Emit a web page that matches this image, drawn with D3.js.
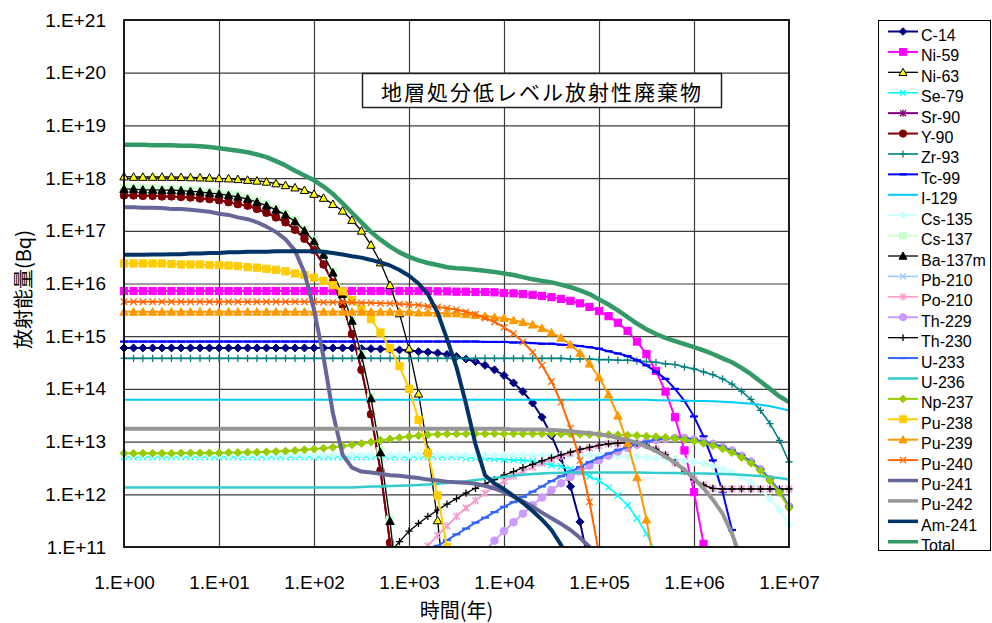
<!DOCTYPE html>
<html>
<head>
<meta charset="utf-8">
<script src="https://cdn.jsdelivr.net/npm/d3@7"></script>
<style>
  body { margin: 0; background: #fff; }
  svg { display: block; }
  text { font-family: "Liberation Sans", Arial, sans-serif; fill: #000; }
  .jp { font-family: "Noto Sans CJK JP", sans-serif; }
</style>
</head>
<body>
<svg id="chart" width="992" height="623"></svg>
<script>
// Elapsed time (years), ten steps per decade
const years = [
  1, 1.26, 1.58, 2, 2.51, 3.16, 3.98, 5.01, 6.31, 7.94,
  10, 12.6, 15.8, 20, 25.1, 31.6, 39.8, 50.1, 63.1, 79.4,
  100, 126, 158, 200, 251, 316, 398, 501, 631, 794,
  1000, 1260, 1580, 2000, 2510, 3160, 3980, 5010, 6310, 7940,
  1e4, 1.26e4, 1.58e4, 2e4, 2.51e4, 3.16e4, 3.98e4, 5.01e4, 6.31e4, 7.94e4,
  1e5, 1.26e5, 1.58e5, 2e5, 2.51e5, 3.16e5, 3.98e5, 5.01e5, 6.31e5, 7.94e5,
  1e6, 1.26e6, 1.58e6, 2e6, 2.51e6, 3.16e6, 3.98e6, 5.01e6, 6.31e6, 7.94e6,
  1e7
];

const xTickValues = [1, 1e1, 1e2, 1e3, 1e4, 1e5, 1e6, 1e7];
const xTickLabels = ["1.E+00", "1.E+01", "1.E+02", "1.E+03", "1.E+04", "1.E+05", "1.E+06", "1.E+07"];
const yTickValues = [1e11, 1e12, 1e13, 1e14, 1e15, 1e16, 1e17, 1e18, 1e19, 1e20, 1e21];
const yTickLabels = ["1.E+11", "1.E+12", "1.E+13", "1.E+14", "1.E+15", "1.E+16", "1.E+17", "1.E+18", "1.E+19", "1.E+20", "1.E+21"];

// Activity (Bq) per nuclide; each list starts at years[first]
const c14 = [
  6.0e14,6.0e14,6.0e14,6.0e14,6.0e14,6.0e14,6.0e14,6.0e14,6.0e14,6.0e14,
  6.0e14,6.0e14,6.0e14,6.0e14,6.0e14,6.0e14,6.0e14,6.0e14,6.0e14,6.0e14,
  6.0e14,6.0e14,6.0e14,6.0e14,6.0e14,5.8e14,5.8e14,5.7e14,5.6e14,5.5e14,
  5.4e14,5.1e14,5.0e14,4.8e14,4.5e14,4.1e14,3.7e14,3.3e14,2.8e14,2.3e14,
  1.8e14,1.3e14,8.9e13,5.4e13,2.9e13,1.3e13,4.9e12,1.4e12,3.0e11,4.1e10
];
const ni59 = [
  7.2e15,7.2e15,7.2e15,7.2e15,7.2e15,7.2e15,7.2e15,7.2e15,7.2e15,7.2e15,
  7.2e15,7.2e15,7.2e15,7.2e15,7.2e15,7.2e15,7.2e15,7.2e15,7.2e15,7.2e15,
  7.2e15,7.2e15,7.2e15,7.2e15,7.2e15,7.2e15,7.2e15,7.2e15,7.2e15,7.2e15,
  7.2e15,7.2e15,7.2e15,7.1e15,7.1e15,7.0e15,7.0e15,6.9e15,6.9e15,6.8e15,
  6.6e15,6.5e15,6.3e15,6.1e15,5.8e15,5.5e15,5.1e15,4.7e15,4.2e15,3.6e15,
  3.0e15,2.4e15,1.8e15,1.26e15,7.9e14,4.6e14,2.2e14,8.9e13,2.9e13,6.8e12,
  1.1e12,1.15e11,6.6e9
];
const ni63 = [
  1.07e18,1.05e18,1.05e18,1.05e18,1.05e18,1.05e18,1.04e18,1.03e18,1.02e18,1.01e18,
  9.9e17,9.8e17,9.5e17,9.2e17,8.9e17,8.5e17,7.9e17,7.3e17,6.6e17,5.9e17,
  5.0e17,4.2e17,3.2e17,2.4e17,1.6e17,1.0e17,5.4e16,2.5e16,9.3e15,2.7e15,
  5.8e14,8.1e13,6.9e12,3.2e11,6.5e9
];
const se79 = [
  5.1e12,5.1e12,5.1e12,5.1e12,5.1e12,5.1e12,5.1e12,5.1e12,5.1e12,5.1e12,
  5.1e12,5.1e12,5.1e12,5.1e12,5.1e12,5.1e12,5.1e12,5.1e12,5.1e12,5.1e12,
  5.1e12,5.1e12,5.1e12,5.1e12,5.1e12,5.1e12,5.1e12,5.1e12,5.1e12,5.1e12,
  5.1e12,5.1e12,5.1e12,5.1e12,5.1e12,5.1e12,4.9e12,4.9e12,4.8e12,4.7e12,
  4.6e12,4.5e12,4.4e12,4.2e12,3.9e12,3.6e12,3.4e12,3.0e12,2.6e12,2.2e12,
  1.8e12,1.35e12,9.5e11,6.2e11,3.5e11,1.8e11,7.4e10
];
const sr90 = [
  4.7e17,4.7e17,4.6e17,4.6e17,4.5e17,4.5e17,4.4e17,4.3e17,4.1e17,4.0e17,
  3.8e17,3.5e17,3.2e17,3.0e17,2.6e17,2.2e17,1.8e17,1.45e17,1.05e17,7.1e16,
  4.3e16,2.3e16,1.05e16,4.0e15,1.1e15,2.3e14,3.3e13,2.8e12,1.2e11,2.4e9
];
const y90 = [
  4.7e17,4.7e17,4.6e17,4.6e17,4.5e17,4.5e17,4.4e17,4.3e17,4.1e17,4.0e17,
  3.8e17,3.5e17,3.2e17,3.0e17,2.6e17,2.2e17,1.8e17,1.45e17,1.05e17,7.1e16,
  4.3e16,2.3e16,1.05e16,4.0e15,1.1e15,2.3e14,3.3e13,2.8e12,1.2e11,2.4e9
];
const zr93 = [
  3.8e14,3.8e14,3.8e14,3.8e14,3.8e14,3.8e14,3.8e14,3.8e14,3.8e14,3.8e14,
  3.8e14,3.8e14,3.8e14,3.8e14,3.8e14,3.8e14,3.8e14,3.8e14,3.8e14,3.8e14,
  3.8e14,3.8e14,3.8e14,3.8e14,3.8e14,3.8e14,3.8e14,3.8e14,3.8e14,3.8e14,
  3.8e14,3.8e14,3.8e14,3.8e14,3.8e14,3.8e14,3.8e14,3.8e14,3.8e14,3.8e14,
  3.8e14,3.8e14,3.8e14,3.8e14,3.8e14,3.8e14,3.8e14,3.7e14,3.7e14,3.7e14,
  3.6e14,3.6e14,3.5e14,3.5e14,3.4e14,3.3e14,3.2e14,3.0e14,2.9e14,2.6e14,
  2.4e14,2.1e14,1.86e14,1.55e14,1.23e14,9.1e13,6.3e13,3.9e13,2.2e13,1.05e13,
  4.1e12
];
const tc99 = [
  7.9e14,7.9e14,7.9e14,7.9e14,7.9e14,7.9e14,7.9e14,7.9e14,7.9e14,7.9e14,
  7.9e14,7.9e14,7.9e14,7.9e14,7.9e14,7.9e14,7.9e14,7.9e14,7.9e14,7.9e14,
  7.9e14,7.9e14,7.9e14,7.9e14,7.9e14,7.9e14,7.9e14,7.9e14,7.9e14,7.9e14,
  7.9e14,7.9e14,7.9e14,7.9e14,7.9e14,7.9e14,7.9e14,7.9e14,7.8e14,7.8e14,
  7.8e14,7.6e14,7.6e14,7.4e14,7.2e14,7.2e14,6.9e14,6.8e14,6.5e14,6.2e14,
  5.8e14,5.2e14,4.7e14,4.2e14,3.5e14,2.8e14,2.1e14,1.55e14,1.0e14,5.9e13,
  3.0e13,1.26e13,4.4e12,1.1e12,2.1e11,2.5e10
];
const i129 = [
  6.2e13,6.2e13,6.2e13,6.2e13,6.2e13,6.2e13,6.2e13,6.2e13,6.2e13,6.2e13,
  6.2e13,6.2e13,6.2e13,6.2e13,6.2e13,6.2e13,6.2e13,6.2e13,6.2e13,6.2e13,
  6.2e13,6.2e13,6.2e13,6.2e13,6.2e13,6.2e13,6.2e13,6.2e13,6.2e13,6.2e13,
  6.2e13,6.2e13,6.2e13,6.2e13,6.2e13,6.2e13,6.2e13,6.2e13,6.2e13,6.2e13,
  6.2e13,6.2e13,6.2e13,6.2e13,6.2e13,6.2e13,6.2e13,6.2e13,6.2e13,6.2e13,
  6.2e13,6.2e13,6.2e13,6.2e13,6.2e13,6.2e13,6.1e13,6.1e13,6.0e13,6.0e13,
  5.9e13,5.9e13,5.8e13,5.7e13,5.6e13,5.4e13,5.2e13,5.0e13,4.7e13,4.3e13,
  3.9e13
];
const cs135 = [
  5.5e12,5.5e12,5.5e12,5.5e12,5.5e12,5.5e12,5.5e12,5.5e12,5.5e12,5.5e12,
  5.5e12,5.5e12,5.5e12,5.5e12,5.5e12,5.5e12,5.5e12,5.5e12,5.5e12,5.5e12,
  5.5e12,5.5e12,5.5e12,5.5e12,5.5e12,5.5e12,5.5e12,5.5e12,5.5e12,5.5e12,
  5.5e12,5.5e12,5.5e12,5.5e12,5.5e12,5.5e12,5.5e12,5.5e12,5.5e12,5.5e12,
  5.5e12,5.5e12,5.5e12,5.5e12,5.5e12,5.5e12,5.5e12,5.5e12,5.4e12,5.4e12,
  5.4e12,5.3e12,5.2e12,5.2e12,5.1e12,5.0e12,4.9e12,4.7e12,4.6e12,4.3e12,
  4.1e12,3.8e12,3.4e12,3.0e12,2.6e12,2.1e12,1.66e12,1.2e12,8.2e11,5.0e11,
  2.7e11
];
const cs137 = [
  6.6e17,6.6e17,6.4e17,6.4e17,6.2e17,6.2e17,6.1e17,5.9e17,5.8e17,5.5e17,
  5.3e17,5.0e17,4.7e17,4.2e17,3.7e17,3.2e17,2.6e17,2.1e17,1.6e17,1.06e17,
  6.7e16,3.7e16,1.7e16,6.7e15,2.06e15,4.6e14,7.0e13,6.6e12,3.3e11,7.6e9
];
const ba137m = [
  6.2e17,6.2e17,6.0e17,6.0e17,5.9e17,5.9e17,5.8e17,5.6e17,5.5e17,5.2e17,
  5.0e17,4.7e17,4.4e17,4.0e17,3.5e17,3.0e17,2.5e17,2.0e17,1.5e17,1.0e17,
  6.3e16,3.5e16,1.6e16,6.3e15,1.95e15,4.4e14,6.6e13,6.2e12,3.1e11,7.2e9
];
const pb210 = [
  6.5e10,1.05e11,1.66e11,2.5e11,3.8e11,5.5e11,7.6e11,1.05e12,1.38e12,
  1.78e12,2.2e12,2.7e12,3.3e12,3.9e12,4.6e12,5.2e12,6.0e12,6.9e12,7.6e12,
  8.3e12,9.1e12,9.3e12,9.5e12,9.3e12,8.5e12,7.2e12,5.6e12,4.0e12,2.75e12,
  1.9e12,1.5e12,1.3e12,1.26e12,1.26e12,1.26e12,1.26e12,1.26e12,1.26e12,1.26e12,
  1.26e12
];
const po210 = [
  6.5e10,1.05e11,1.66e11,2.5e11,3.8e11,5.5e11,7.6e11,1.05e12,1.38e12,
  1.78e12,2.2e12,2.7e12,3.3e12,3.9e12,4.6e12,5.2e12,6.0e12,6.9e12,7.6e12,
  8.3e12,9.1e12,9.3e12,9.5e12,9.3e12,8.5e12,7.2e12,5.6e12,4.0e12,2.75e12,
  1.9e12,1.5e12,1.3e12,1.26e12,1.26e12,1.26e12,1.26e12,1.26e12,1.26e12,1.26e12,
  1.26e12
];
const th229 = [
  8.5e10,1.32e11,
  2.0e11,2.95e11,4.3e11,6.2e11,8.7e11,1.2e12,1.62e12,2.14e12,2.75e12,3.5e12,
  4.4e12,5.4e12,6.5e12,7.6e12,8.7e12,9.8e12,1.07e13,1.12e13,1.17e13,1.17e13,
  1.1e13,1.0e13,9.1e12,7.9e12,6.8e12,5.4e12,4.2e12,3.0e12,1.95e12,1.15e12,
  5.9e11
];
const th230 = [
  7.9e10,1.26e11,
  2.0e11,2.8e11,3.8e11,5.0e11,6.5e11,8.3e11,1.05e12,1.3e12,1.6e12,1.9e12,
  2.3e12,2.7e12,3.2e12,3.7e12,4.3e12,4.9e12,5.6e12,6.3e12,7.1e12,7.8e12,
  8.5e12,9.1e12,9.3e12,9.5e12,9.3e12,8.5e12,7.2e12,5.6e12,4.0e12,2.75e12,
  1.9e12,1.5e12,1.3e12,1.26e12,1.26e12,1.26e12,1.26e12,1.26e12,1.26e12,1.26e12,
  1.26e12
];
const u233 = [
  7.9e10,1.05e11,1.35e11,1.74e11,2.24e11,2.9e11,3.6e11,4.6e11,
  5.8e11,7.1e11,8.9e11,1.12e12,1.41e12,1.78e12,2.2e12,2.7e12,3.3e12,4.1e12,
  4.9e12,5.9e12,6.9e12,7.9e12,9.1e12,1.0e13,1.1e13,1.15e13,1.2e13,1.17e13,
  1.1e13,1.0e13,9.1e12,7.9e12,6.8e12,5.4e12,4.2e12,3.0e12,1.95e12,1.15e12,
  5.9e11
];
const u236 = [
  1.35e12,1.35e12,1.35e12,1.35e12,1.35e12,1.35e12,1.35e12,1.35e12,1.35e12,1.35e12,
  1.35e12,1.35e12,1.35e12,1.35e12,1.35e12,1.35e12,1.35e12,1.35e12,1.35e12,1.35e12,
  1.35e12,1.35e12,1.35e12,1.35e12,1.35e12,1.38e12,1.40e12,1.41e12,1.43e12,1.45e12,
  1.47e12,1.50e12,1.54e12,1.58e12,1.64e12,1.70e12,1.77e12,1.86e12,1.95e12,2.05e12,
  2.15e12,2.25e12,2.35e12,2.43e12,2.49e12,2.54e12,2.57e12,2.58e12,2.58e12,2.58e12,
  2.58e12,2.58e12,2.58e12,2.58e12,2.58e12,2.56e12,2.55e12,2.54e12,2.53e12,2.51e12,
  2.49e12,2.48e12,2.45e12,2.42e12,2.39e12,2.34e12,2.28e12,2.22e12,2.13e12,2.03e12,
  1.91e12
];
const np237 = [
  6.0e12,6.0e12,6.0e12,6.0e12,6.0e12,6.0e12,6.1e12,6.1e12,6.1e12,6.1e12,
  6.1e12,6.2e12,6.2e12,6.3e12,6.3e12,6.4e12,6.5e12,6.6e12,6.8e12,7.0e12,
  7.2e12,7.5e12,7.8e12,8.2e12,8.7e12,9.2e12,9.8e12,1.05e13,1.12e13,1.18e13,
  1.25e13,1.30e13,1.35e13,1.38e13,1.40e13,1.40e13,1.41e13,1.41e13,1.41e13,1.41e13,
  1.41e13,1.41e13,1.41e13,1.41e13,1.41e13,1.40e13,1.39e13,1.39e13,1.38e13,1.37e13,
  1.36e13,1.35e13,1.34e13,1.32e13,1.30e13,1.27e13,1.24e13,1.20e13,1.15e13,1.09e13,
  1.02e13,9.3e12,8.4e12,7.3e12,6.2e12,5.0e12,3.9e12,2.8e12,1.8e12,1.07e12,
  5.5e11
];
const pu238 = [
  2.4e16,2.4e16,2.4e16,2.4e16,2.4e16,2.35e16,2.3e16,2.3e16,2.3e16,2.24e16,
  2.24e16,2.19e16,2.14e16,2.04e16,2.0e16,1.9e16,1.82e16,1.7e16,1.55e16,1.45e16,
  1.29e16,1.12e16,9.3e15,7.1e15,4.8e15,3.2e15,2.1e15,1.17e15,5.9e14,2.7e14,
  1.0e14,2.6e13,6.0e12,9.5e11,1.0e11,6.3e9
];
const pu239 = [
  2.9e15,2.9e15,2.9e15,2.9e15,2.9e15,2.9e15,2.9e15,2.9e15,2.9e15,2.9e15,
  2.9e15,2.9e15,2.9e15,2.9e15,2.9e15,2.9e15,2.9e15,2.9e15,2.9e15,2.9e15,
  2.9e15,2.9e15,2.9e15,2.9e15,2.9e15,2.9e15,2.9e15,2.9e15,2.9e15,2.9e15,
  2.9e15,2.8e15,2.8e15,2.75e15,2.7e15,2.7e15,2.6e15,2.5e15,2.4e15,2.3e15,
  2.2e15,2.0e15,1.85e15,1.65e15,1.42e15,1.17e15,9.3e14,6.9e14,4.8e14,3.0e14,
  1.66e14,7.8e13,3.1e13,9.3e12,2.1e12,3.3e11,3.1e10
];
const pu240 = [
  4.5e15,4.5e15,4.5e15,4.5e15,4.5e15,4.5e15,4.5e15,4.5e15,4.5e15,4.5e15,
  4.5e15,4.5e15,4.5e15,4.5e15,4.5e15,4.5e15,4.5e15,4.5e15,4.5e15,4.5e15,
  4.5e15,4.4e15,4.4e15,4.4e15,4.4e15,4.3e15,4.3e15,4.2e15,4.2e15,4.1e15,
  4.0e15,3.9e15,3.7e15,3.6e15,3.4e15,3.2e15,2.9e15,2.6e15,2.2e15,1.86e15,
  1.48e15,1.12e15,7.8e14,5.0e14,2.8e14,1.38e14,5.6e13,1.8e13,4.4e12,7.2e11,
  7.4e10
];
const pu241 = [
  2.8e17,2.8e17,2.75e17,2.75e17,2.7e17,2.6e17,2.6e17,2.5e17,2.4e17,2.3e17,
  2.1e17,2.0e17,1.8e17,1.66e17,1.45e17,1.2e17,9.5e16,6.9e16,4.2e16,1.6e16,
  3.2e15,4.0e14,3.5e13,5.6e12,3.2e12,2.7e12,2.6e12,2.45e12,2.3e12,2.24e12,
  2.14e12,2.04e12,1.9e12,1.82e12,1.74e12,1.7e12,1.66e12,1.58e12,1.45e12,1.29e12,
  1.1e12,9.1e11,7.4e11,5.8e11,4.5e11,3.5e11,2.75e11,2.1e11,1.5e11,1.0e11,
  6.3e10
];
const pu242 = [
  1.75e13,1.75e13,1.75e13,1.75e13,1.75e13,1.75e13,1.75e13,1.75e13,1.75e13,1.75e13,
  1.75e13,1.75e13,1.75e13,1.75e13,1.75e13,1.75e13,1.75e13,1.75e13,1.75e13,1.75e13,
  1.75e13,1.75e13,1.75e13,1.75e13,1.75e13,1.75e13,1.75e13,1.75e13,1.75e13,1.75e13,
  1.75e13,1.75e13,1.75e13,1.75e13,1.75e13,1.75e13,1.75e13,1.75e13,1.75e13,1.75e13,
  1.75e13,1.7e13,1.7e13,1.7e13,1.7e13,1.66e13,1.62e13,1.58e13,1.5e13,1.45e13,
  1.38e13,1.29e13,1.17e13,1.07e13,9.5e12,8.1e12,6.6e12,5.2e12,4.0e12,2.9e12,
  2.0e12,1.3e12,7.9e11,4.3e11,1.8e11,5.6e10
];
const am241 = [
  3.5e16,3.5e16,3.5e16,3.55e16,3.55e16,3.6e16,3.6e16,3.7e16,3.7e16,3.8e16,
  3.8e16,3.9e16,3.9e16,4.0e16,4.0e16,4.0e16,4.1e16,4.1e16,4.1e16,4.1e16,
  4.1e16,4.0e16,3.8e16,3.55e16,3.3e16,3.1e16,2.8e16,2.5e16,2.2e16,1.8e16,
  1.4e16,1.0e16,6.3e15,2.8e15,8.9e14,2.6e14,5.2e13,8.9e12,2.3e12,1.6e12,
  1.26e12,9.3e11,6.9e11,4.8e11,3.3e11,2.1e11,1.1e11,5.0e10
];
const total = [
  4.3e18,4.3e18,4.3e18,4.2e18,4.2e18,4.2e18,4.1e18,4.1e18,4.0e18,3.9e18,
  3.7e18,3.5e18,3.3e18,3.1e18,2.8e18,2.5e18,2.1e18,1.74e18,1.38e18,1.12e18,
  9.1e17,6.9e17,5.0e17,3.3e17,2.2e17,1.45e17,9.5e16,6.8e16,5.0e16,3.9e16,
  3.2e16,2.75e16,2.45e16,2.24e16,2.04e16,1.95e16,1.9e16,1.82e16,1.74e16,1.66e16,
  1.55e16,1.45e16,1.32e16,1.2e16,1.12e16,1.05e16,9.5e15,8.5e15,7.4e15,6.3e15,
  5.0e15,4.0e15,3.1e15,2.3e15,1.74e15,1.35e15,1.1e15,9.3e14,8.1e14,7.1e14,
  6.2e14,5.4e14,4.6e14,3.8e14,3.2e14,2.5e14,1.9e14,1.38e14,1.0e14,7.2e13,
  5.6e13
];

const series = [
  { name: "C-14",    values: c14,    first: 0,  color: "#000080", marker: "diamond",  width: 2 },
  { name: "Ni-59",   values: ni59,   first: 0,  color: "#FF00FF", marker: "square",   width: 2 },
  { name: "Ni-63",   values: ni63,   first: 0,  color: "#000000", fill: "#FFFF00", marker: "triangle", width: 1.3 },
  { name: "Se-79",   values: se79,   first: 0,  color: "#00FFFF", marker: "x",        width: 1.6 },
  { name: "Sr-90",   values: sr90,   first: 0,  color: "#800080", marker: "star",     width: 2 },
  { name: "Y-90",    values: y90,    first: 0,  color: "#800000", marker: "circle",   width: 2 },
  { name: "Zr-93",   values: zr93,   first: 0,  color: "#008080", marker: "plus",     width: 1.6 },
  { name: "Tc-99",   values: tc99,   first: 0,  color: "#0000FF", marker: "dash",     width: 2 },
  { name: "I-129",   values: i129,   first: 0,  color: "#00CCFF", marker: null,       width: 2 },
  { name: "Cs-135",  values: cs135,  first: 0,  color: "#CCFFFF", marker: "diamond",  width: 2 },
  { name: "Cs-137",  values: cs137,  first: 0,  color: "#CCFFCC", marker: "square",   width: 2 },
  { name: "Ba-137m", values: ba137m, first: 0,  color: "#000000", marker: "triangle", width: 1.3 },
  { name: "Pb-210",  values: pb210,  first: 31, color: "#99CCFF", marker: "x",        width: 1.6 },
  { name: "Po-210",  values: po210,  first: 31, color: "#FF99CC", marker: "star",     width: 1.6 },
  { name: "Th-229",  values: th229,  first: 38, color: "#CC99FF", marker: "circle",   width: 2 },
  { name: "Th-230",  values: th230,  first: 28, color: "#000000", marker: "plus",     width: 1.3 },
  { name: "U-233",   values: u233,   first: 32, color: "#3366FF", marker: "dash",     width: 2 },
  { name: "U-236",   values: u236,   first: 0,  color: "#33CCCC", marker: null,       width: 2.5 },
  { name: "Np-237",  values: np237,  first: 0,  color: "#99CC00", marker: "diamond",  width: 2 },
  { name: "Pu-238",  values: pu238,  first: 0,  color: "#FFCC00", marker: "square",   width: 2 },
  { name: "Pu-239",  values: pu239,  first: 0,  color: "#FF9900", marker: "triangle", width: 2 },
  { name: "Pu-240",  values: pu240,  first: 0,  color: "#FF6600", marker: "x",        width: 2 },
  { name: "Pu-241",  values: pu241,  first: 0,  color: "#666699", marker: null,       width: 4 },
  { name: "Pu-242",  values: pu242,  first: 0,  color: "#969696", marker: null,       width: 4 },
  { name: "Am-241",  values: am241,  first: 0,  color: "#003366", marker: null,       width: 4 },
  { name: "Total",   values: total,  first: 0,  color: "#339966", marker: null,       width: 4.5 }
];

const svg = d3.select("#chart");
const plot = { left: 124, right: 789, top: 20, bottom: 547 };

const x = d3.scaleLog().domain([1, 1e7]).range([plot.left, plot.right]);
const y = d3.scaleLog().domain([1e11, 1e21]).range([plot.bottom, plot.top]);

// plot background
svg.append("rect")
  .attr("x", plot.left).attr("y", plot.top)
  .attr("width", plot.right - plot.left).attr("height", plot.bottom - plot.top)
  .attr("fill", "#fff");

// grid lines at every decade
const gridX = svg.append("g")
  .attr("transform", `translate(0,${plot.bottom})`)
  .call(d3.axisBottom(x).tickValues(xTickValues.slice(1, -1))
    .tickSize(-(plot.bottom - plot.top)).tickFormat(""));
const gridY = svg.append("g")
  .attr("transform", `translate(${plot.left},0)`)
  .call(d3.axisLeft(y).tickValues(yTickValues.slice(1, -1))
    .tickSize(-(plot.right - plot.left)).tickFormat(""));
[gridX, gridY].forEach(g => {
  g.select(".domain").remove();
  g.selectAll("line").attr("stroke", "#3c3c3c").attr("stroke-width", 1.2);
});

// tick labels
const xLab = svg.append("g")
  .attr("transform", `translate(0,${plot.bottom})`)
  .call(d3.axisBottom(x).tickValues(xTickValues)
    .tickFormat((d, i) => xTickLabels[i]).tickSize(0).tickPadding(29));
const yLab = svg.append("g")
  .attr("transform", `translate(${plot.left},0)`)
  .call(d3.axisLeft(y).tickValues(yTickValues)
    .tickFormat((d, i) => yTickLabels[i]).tickSize(0).tickPadding(18));
[xLab, yLab].forEach(g => {
  g.select(".domain").remove();
  g.selectAll("text").attr("font-size", 19)
    .attr("font-family", "'Liberation Sans', Arial, sans-serif").attr("fill", "#000");
});

// clip for the series
svg.append("defs").append("clipPath").attr("id", "plotClip")
  .append("rect")
  .attr("x", plot.left - 8).attr("y", plot.top - 8)
  .attr("width", plot.right - plot.left + 16).attr("height", plot.bottom - plot.top + 8);

const markerSize = {
  diamond: 4, square: 3.6, triangle: 4.2, circle: 3.8, x: 3.2, star: 3.2, plus: 3.6, dash: 4
};

function drawMarker(sel, s, px, py, scale) {
  const k = (markerSize[s.marker] || 3) * (scale || 1);
  const fill = s.fill || s.color;
  const g = sel.append("g").attr("transform", `translate(${px},${py})`);
  switch (s.marker) {
    case "diamond":
      g.append("path").attr("d", `M0,${-k}L${k},0L0,${k}L${-k},0Z`)
        .attr("fill", fill).attr("stroke", s.color).attr("stroke-width", 1);
      break;
    case "square":
      g.append("rect").attr("x", -k).attr("y", -k).attr("width", 2 * k).attr("height", 2 * k)
        .attr("fill", fill).attr("stroke", s.color).attr("stroke-width", 1);
      break;
    case "triangle":
      g.append("path").attr("d", `M0,${-k}L${k},${k * 0.8}L${-k},${k * 0.8}Z`)
        .attr("fill", fill).attr("stroke", s.color).attr("stroke-width", 1);
      break;
    case "circle":
      g.append("circle").attr("r", k).attr("fill", fill).attr("stroke", s.color).attr("stroke-width", 1);
      break;
    case "x":
      g.append("path").attr("d", `M${-k},${-k}L${k},${k}M${-k},${k}L${k},${-k}`)
        .attr("stroke", s.color).attr("stroke-width", 1.3).attr("fill", "none");
      break;
    case "star":
      g.append("path").attr("d", `M${-k},${-k}L${k},${k}M${-k},${k}L${k},${-k}M0,${-k * 1.2}V${k * 1.2}`)
        .attr("stroke", s.color).attr("stroke-width", 1.3).attr("fill", "none");
      break;
    case "plus":
      g.append("path").attr("d", `M${-k},0H${k}M0,${-k}V${k}`)
        .attr("stroke", s.color).attr("stroke-width", 1.3).attr("fill", "none");
      break;
    case "dash":
      g.append("path").attr("d", `M${-k},0H${k}`)
        .attr("stroke", s.color).attr("stroke-width", 2.2).attr("fill", "none");
      break;
  }
}

const line = d3.line().x(d => x(d.t)).y(d => y(d.v));
const seriesLayer = svg.append("g").attr("clip-path", "url(#plotClip)");

series.forEach(s => {
  const pts = s.values.map((v, i) => ({ t: years[s.first + i], v }));
  const g = seriesLayer.append("g").attr("class", "series");
  g.append("path").datum(pts)
    .attr("d", line)
    .attr("fill", "none")
    .attr("stroke", s.color)
    .attr("stroke-width", s.width)
    .attr("stroke-linejoin", "round");
  if (s.marker) {
    pts.forEach(p => {
      const py = y(p.v);
      if (py <= plot.bottom + 4) drawMarker(g, s, x(p.t), py);
    });
  }
});

// plot frame
svg.append("rect")
  .attr("x", plot.left).attr("y", plot.top)
  .attr("width", plot.right - plot.left).attr("height", plot.bottom - plot.top)
  .attr("fill", "none").attr("stroke", "#000").attr("stroke-width", 1.8);

// title box inside the plot
const titleBox = svg.append("g");
titleBox.append("rect")
  .attr("x", 362.5).attr("y", 73.5).attr("width", 359).attr("height", 34)
  .attr("fill", "#fff").attr("stroke", "#222").attr("stroke-width", 1.5);
titleBox.append("text").attr("class", "jp")
  .attr("x", 542).attr("y", 91)
  .attr("text-anchor", "middle").attr("dominant-baseline", "central")
  .attr("font-size", 21).attr("letter-spacing", 2)
  .text("地層処分低レベル放射性廃棄物");

// axis titles
svg.append("text").attr("class", "jp")
  .attr("x", (plot.left + plot.right) / 2).attr("y", 609)
  .attr("text-anchor", "middle").attr("dominant-baseline", "central")
  .attr("font-size", 20)
  .text("時間(年)");
svg.append("text").attr("class", "jp")
  .attr("transform", `translate(22,${(plot.top + plot.bottom) / 2 + 6}) rotate(-90)`)
  .attr("text-anchor", "middle").attr("dominant-baseline", "central")
  .attr("font-size", 20)
  .text("放射能量(Bq)");

// legend
const legend = svg.append("g");
legend.append("rect")
  .attr("x", 878.5).attr("y", 20.5).attr("width", 112).attr("height", 530)
  .attr("fill", "#fff").attr("stroke", "#000").attr("stroke-width", 1);
const rowStep = 20.41;
series.forEach((s, i) => {
  const ry = 31.5 + i * rowStep;
  const row = legend.append("g");
  row.append("line")
    .attr("x1", 888).attr("x2", 918).attr("y1", ry).attr("y2", ry)
    .attr("stroke", s.color).attr("stroke-width", Math.min(s.width, 3.5));
  if (s.marker) drawMarker(row, s, 903, ry, 0.95);
  row.append("text")
    .attr("x", 921).attr("y", ry + 9.5)
    .attr("font-size", 16)
    .text(s.name);
});
</script>
</body>
</html>
